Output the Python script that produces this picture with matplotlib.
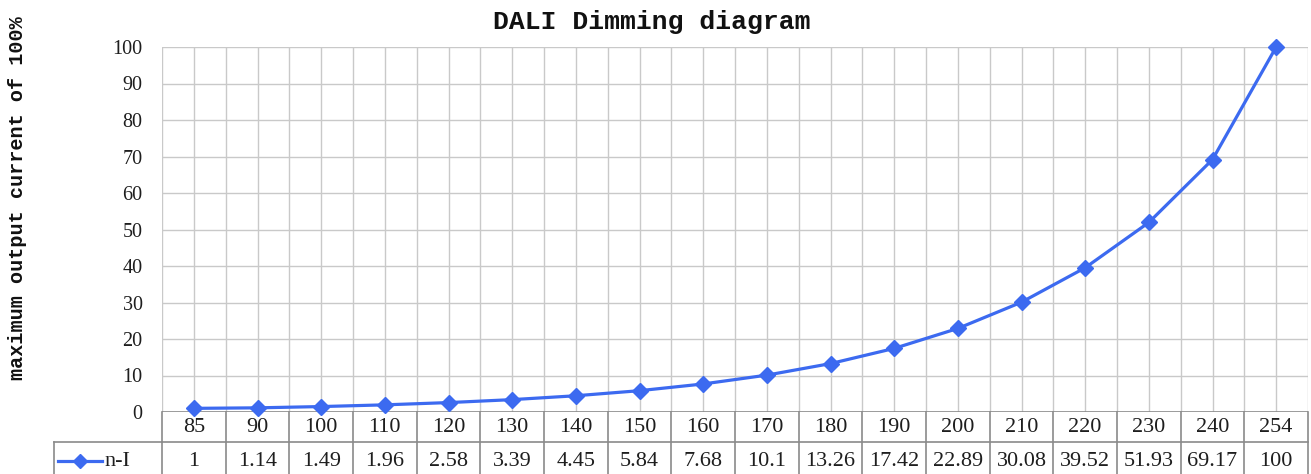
import matplotlib
matplotlib.use("Agg")
import matplotlib.pyplot as plt
from matplotlib.lines import Line2D
import matplotlib.transforms as mtransforms

# ---- data ----
levels = ["85", "90", "100", "110", "120", "130", "140", "150", "160",
          "170", "180", "190", "200", "210", "220", "230", "240", "254"]
current = [1, 1.14, 1.49, 1.96, 2.58, 3.39, 4.45, 5.84, 7.68,
           10.1, 13.26, 17.42, 22.89, 30.08, 39.52, 51.93, 69.17, 100]
series_name = "n-I"
title = "DALI Dimming diagram"
ylabel = "maximum output current of 100%"
yticks = list(range(0, 101, 10))

FONT = "Liberation Mono"
NUMFONT = "Liberation Serif"
TICKSIZE = 14.5
TABSIZE = 16
LINE_COLOR = "#3C6AF0"
GRID_COLOR = "#C9C9C9"
TABLE_COLOR = "#8A8A8A"
TEXT_COLOR = "#1E1E1E"

W, H = 1311, 474
fig = plt.figure(figsize=(W / 100, H / 100), dpi=100)
left, right, bottom, top = 162 / W, 1308 / W, 1 - 412 / H, 1 - 47 / H
ax = fig.add_axes([left, bottom, right - left, top - bottom])

x = list(range(len(levels)))
ax.plot(x, current, color=LINE_COLOR, lw=2.3, marker="D", ms=8,
        markerfacecolor=LINE_COLOR, markeredgecolor=LINE_COLOR, zorder=5,
        clip_on=False)

n = len(levels)
ax.set_xlim(-0.5, n - 0.5)
ax.set_ylim(0, 100)
ax.set_yticks(yticks)
ax.set_yticklabels([str(v) for v in yticks], fontsize=TICKSIZE, family=NUMFONT,
                   color=TEXT_COLOR)
ax.tick_params(axis="y", length=0, pad=14)
ax.set_xticks([])

# gridlines: horizontal at each tick, vertical at category centres and boundaries
for v in yticks[1:]:
    ax.axhline(v, color=GRID_COLOR, lw=1.0, zorder=1)
for k in range(2 * n + 1):
    xv = -0.5 + 0.5 * k
    ax.axvline(xv, color=GRID_COLOR, lw=1.0, zorder=1)

for s in ax.spines.values():
    s.set_visible(False)
ax.axhline(0, color=TABLE_COLOR, lw=1.2, zorder=2)

# ---- data table below the axis ----
trans = mtransforms.blended_transform_factory(ax.transData, fig.transFigure)
row1_top = 1 - 412 / H
row1_bot = 1 - 442 / H
row2_bot = 1 - 480 / H
legend_left = 54 / W

fig.add_artist(Line2D([left, right], [row1_bot, row1_bot],
                      transform=fig.transFigure, color=TABLE_COLOR, lw=1.2))
fig.add_artist(Line2D([legend_left, left], [row1_bot, row1_bot],
                      transform=fig.transFigure, color=TABLE_COLOR, lw=1.2))
for k in range(n + 1):
    xb = -0.5 + k
    fig.add_artist(Line2D([xb, xb], [row2_bot, row1_top], transform=trans,
                          color=TABLE_COLOR, lw=1.2))
fig.add_artist(Line2D([legend_left, legend_left], [row2_bot, row1_bot],
                      transform=fig.transFigure, color=TABLE_COLOR, lw=1.2))

y1 = 1 - 428 / H
y2 = 1 - 461 / H
for i, (lab, val) in enumerate(zip(levels, current)):
    fig.text(i, y1, lab, transform=trans, ha="center", va="center",
             fontsize=TABSIZE, family=NUMFONT, color=TEXT_COLOR)
    fig.text(i, y2, f"{val:g}", transform=trans, ha="center", va="center",
             fontsize=TABSIZE, family=NUMFONT, color=TEXT_COLOR)

# legend key in table
fig.add_artist(Line2D([58 / W, 102 / W], [y2, y2], transform=fig.transFigure,
                      color=LINE_COLOR, lw=2.3))
fig.add_artist(Line2D([80 / W], [y2], transform=fig.transFigure,
                      color=LINE_COLOR, marker="D", ms=7, lw=0))
fig.text(104 / W, y2, series_name, ha="left", va="center", fontsize=TABSIZE,
         family=NUMFONT, color=TEXT_COLOR)

# title and y label
fig.text(652 / W, 1 - 22 / H, title, ha="center", va="center", fontsize=19,
         family=FONT, fontweight="bold", color="#111111")
fig.text(18 / W, 1 - 198 / H, ylabel, rotation=90, ha="center", va="center",
         fontsize=14.5, family=FONT, fontweight="bold", color="#111111")

fig.savefig("out.png", dpi=100)
